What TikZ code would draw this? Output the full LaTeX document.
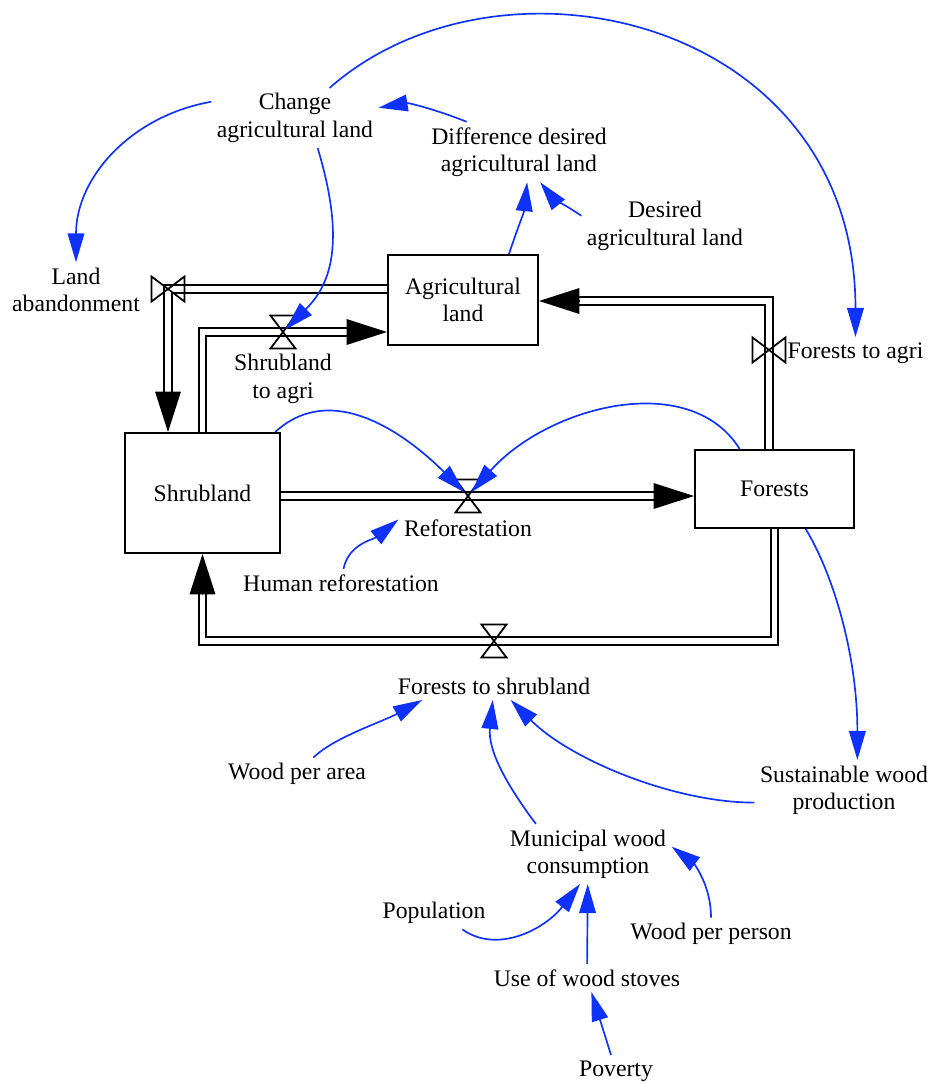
\documentclass[tikz,border=0pt]{standalone}
\usepackage{fontspec}
\setmainfont{Liberation Serif}
\usetikzlibrary{arrows.meta}
\definecolor{infoblue}{RGB}{15,50,250}

\begin{document}
\begin{tikzpicture}[x=0.02cm, y=0.02cm,
  font=\fontsize{13.5}{15.6}\selectfont,
  stock/.style={draw, line width=1.1pt, inner sep=0pt, align=center},
  var/.style={inner sep=3pt, align=center},
  pipe/.style={draw, line width=1pt, double, double distance=3.4pt},
  pipehead/.style={line width=1pt, -{Triangle[length=23pt, width=14.5pt]}},
  info/.style={draw=infoblue, line width=0.95pt, -{Triangle[length=16.5pt, width=9.5pt]}},
  valveline/.style={line width=1pt},
  vvalve/.pic={\draw[valveline] (-12.5,16.5) -- (12.5,16.5) -- (0,0) -- cycle
                 (-12.5,-16.5) -- (12.5,-16.5) -- (0,0) -- cycle;},
  hvalve/.pic={\draw[valveline] (-16.5,12.5) -- (-16.5,-12.5) -- (0,0) -- cycle
                 (16.5,12.5) -- (16.5,-12.5) -- (0,0) -- cycle;}]

\useasboundingbox (0,0) rectangle (933,-1083);

% Stocks
\node[stock, minimum width=3.1cm, minimum height=2.4cm] (shrub) at (202.5,-493) {Shrubland};
\node[stock, minimum width=3cm, minimum height=1.8cm] (agri) at (463,-300) {Agricultural\\land};
\node[stock, minimum width=3.18cm, minimum height=1.56cm] (forests) at (774.5,-489) {Forests};

% Valves
\coordinate (vaban) at (168,-289);
\coordinate (vs2a) at (283,-332);
\coordinate (vrefo) at (468,-496);
\coordinate (vf2a) at (769,-350);
\coordinate (cf2a) at (769,-301);
\coordinate (vf2s) at (494,-641);

% Flows
\draw[pipe] (agri.west |- vaban) -| ([yshift=0.76cm]vaban |- shrub.north);
\draw[pipehead] ([yshift=0.8cm]vaban |- shrub.north) -- (vaban |- shrub.north);

\draw[pipe] (shrub.north) |- ([xshift=-0.76cm]agri.west |- vs2a);
\draw[pipehead] ([xshift=-0.8cm]agri.west |- vs2a) -- (agri.west |- vs2a);

\draw[pipe] (shrub.east |- vrefo) -- ([xshift=-0.76cm]forests.west |- vrefo);
\draw[pipehead] ([xshift=-0.8cm]forests.west |- vrefo) -- (forests.west |- vrefo);

\draw[pipe] (forests.north -| vf2a) |- ([xshift=0.76cm]agri.east |- cf2a);
\draw[pipehead] ([xshift=0.8cm]agri.east |- cf2a) -- (agri.east |- cf2a);

\draw[pipe] (forests.south) |- (vf2s) -| ([yshift=-0.76cm]shrub.south);
\draw[pipehead] ([yshift=-0.8cm]shrub.south) -- (shrub.south);

\pic at (vaban) {hvalve};
\pic at (vs2a) {vvalve};
\pic at (vrefo) {vvalve};
\pic at (vf2a) {hvalve};
\pic at (vf2s) {vvalve};

% Variables
\node[var] (chg) at (295,-118) {Change\\agricultural land};
\node[var] (diff) at (519,-152) {Difference desired\\agricultural land};
\node[var] (des) at (665,-226) {Desired\\agricultural land};
\node[var] (land) at (76,-290) {Land\\abandonment};
\node[var] (s2alab) at (283,-379) {Shrubland\\to agri};
\node[var, anchor=west] (f2alab) at (782,-353) {Forests to agri};
\node[var] (refolab) at (468,-528) {Reforestation};
\node[var] (human) at (341,-583) {Human reforestation};
\node[var] (f2slab) at (494,-686) {Forests to shrubland};
\node[var] (wpa) at (297,-774) {Wood per area};
\node[var] (swp) at (844,-790) {Sustainable wood\\production};
\node[var] (mwc) at (588,-854) {Municipal wood\\consumption};
\node[var] (pop) at (434,-913) {Population};
\node[var] (wpp) at (711,-934) {Wood per person};
\node[var] (uws) at (587,-978) {Use of wood stoves};
\node[var] (pov) at (616,-1071) {Poverty};

% Information links
\draw[info] (chg.169) .. controls +(-80,-14) and +(0,85) .. (land.north);
\draw[info, shorten >=2pt] (chg.-53) .. controls +(30,-100) and +(45,45) .. (vs2a);
\draw[info] (chg.41) .. controls +(170,150) and +(0,320) .. (f2alab.north);
\draw[info] (diff.150) .. controls +(-30,12) and +(30,5) .. (chg.7);
\draw[info] (agri.45) .. controls +(10,30) and +(-3,-30) .. (diff.-75);
\draw[info] (des.173) .. controls +(-15,10) and +(12,-15) .. (diff.-55);
\draw[info, shorten >=3pt] (shrub.40) .. controls +(60,55) and +(-55,55) .. (vrefo);
\draw[info, shorten >=3pt] (forests.131) .. controls +(-50,80) and +(80,90) .. (vrefo);
\draw[info] (human.80) .. controls +(5,25) and +(-25,-20) .. (refolab.173);
\draw[info] (forests.-52) .. controls +(30,-50) and +(0,100) .. (swp.66);
\draw[info] (wpa.45) .. controls +(20,20) and +(-40,-22) .. (f2slab.191);
\draw[info] (mwc.150) .. controls +(-30,40) and +(-5,-50) .. (f2slab.265);
\draw[info] (swp.188) .. controls +(-80,0) and +(60,-60) .. (f2slab.-40);
\draw[info] (pop.-30) .. controls +(35,-25) and +(-35,-45) .. (mwc.255);
\draw[info] (uws) -- (mwc);
\draw[info] (wpp.north) .. controls +(0,35) and +(20,-15) .. (mwc.5);
\draw[info] (pov) -- (uws);

\end{tikzpicture}
\end{document}
